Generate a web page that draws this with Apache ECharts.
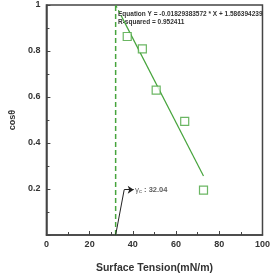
<!DOCTYPE html>
<html>
<head>
<meta charset="utf-8">
<script src="https://cdn.jsdelivr.net/npm/echarts@6/dist/echarts.min.js"></script>
<style>
  html, body { margin: 0; padding: 0; background: #fff; }
  #chart { width: 273px; height: 279px; }
</style>
</head>
<body>
<div id="chart"></div>
<script>
  // measured points
  let tension = [37.4, 44.4, 50.8, 64.0, 72.7]
  let cosTheta = [0.863, 0.809, 0.63, 0.494, 0.195]
  // linear fit
  let slope = -0.01829383572
  let intercept = 1.586394239
  let gammaC = 32.04
  let fitDashX = [32.04, 35.0]
  let fitSolidX = [35.0, 72.7]
  // annotation leader: slanted part, then the arrow
  let leaderPath = [[32.04, 0], [36.0, 0.197]]
  let arrowPath = [[36.0, 0.197], [40.4, 0.197]]
  let xTicks = [0, 20, 40, 60, 80, 100]
  let yTicks = [0.2, 0.4, 0.6, 0.8, 1]

  let green = '#46a43c'
  let fit = x => [x, slope * x + intercept]

  let chart = echarts.init(document.getElementById('chart'))
  let boldFont = { fontFamily: 'Liberation Sans, Arial, sans-serif', fontWeight: 'bold', color: '#333' }

  let option = {
    animation: false,
    grid: { left: 31, right: 4, top: 5, bottom: 35, show: true, borderColor: '#444', borderWidth: 1.5 },
    xAxis: {
      type: 'value', min: 0, max: 100, interval: 20,
      name: 'Surface Tension(mN/m)', nameLocation: 'middle', nameGap: 28,
      nameTextStyle: Object.assign({ fontSize: 10.5 }, boldFont),
      axisLine: { lineStyle: { color: '#444', width: 1.5 } },
      axisTick: { inside: true, length: 4, lineStyle: { color: '#444' } },
      minorTick: { show: true, splitNumber: 2, length: 3, lineStyle: { color: '#444' } },
      axisLabel: Object.assign({ fontSize: 9, margin: 5, showMaxLabel: true, formatter: v => xTicks.includes(v) ? v : '' }, boldFont),
      splitLine: { show: false }
    },
    yAxis: {
      type: 'value', min: 0, max: 1, interval: 0.2,
      name: 'cosθ', nameLocation: 'middle', nameGap: 15,
      nameTextStyle: Object.assign({ fontSize: 9 }, boldFont),
      axisLine: { show: true, lineStyle: { color: '#444', width: 1.5 } },
      axisTick: { inside: true, length: 4, lineStyle: { color: '#444' } },
      minorTick: { show: true, splitNumber: 2, length: 3, lineStyle: { color: '#444' } },
      axisLabel: Object.assign({ fontSize: 9, margin: 6, formatter: v => yTicks.some(t => Math.abs(t - v) < 1e-6) ? String(+v.toFixed(1)) : '' }, boldFont),
      splitLine: { show: false }
    },
    series: [
      {
        type: 'line', data: [[gammaC, 0], [gammaC, 1]], symbol: 'none',
        itemStyle: { color: green },
        lineStyle: { color: green, width: 1.5, type: [5, 3] }, z: 2
      },
      {
        type: 'line', data: fitDashX.map(fit), symbol: 'none',
        itemStyle: { color: green },
        lineStyle: { color: green, width: 1.2, type: [3, 3] }
      },
      {
        type: 'line', data: fitSolidX.map(fit), symbol: 'none',
        itemStyle: { color: green },
        lineStyle: { color: green, width: 1.2 }
      },
      {
        type: 'scatter', data: tension.map((x, i) => [x, cosTheta[i]]),
        symbol: 'rect', symbolSize: 8,
        itemStyle: { color: '#fff', borderColor: green, borderWidth: 1.2 }, z: 5
      },
      {
        type: 'lines', coordinateSystem: 'cartesian2d',
        symbol: ['none', 'none'],
        lineStyle: { color: '#222', width: 1, opacity: 1 },
        data: [{ coords: leaderPath }], z: 6
      },
      {
        type: 'lines', coordinateSystem: 'cartesian2d',
        symbol: ['none', 'arrow'], symbolSize: 6,
        itemStyle: { color: '#222' },
        lineStyle: { color: '#222', width: 1, opacity: 1 },
        data: [{ coords: arrowPath }], z: 6
      },
      {
        type: 'scatter', symbolSize: 0, data: [[41, 0.197]],
        label: {
          show: true, position: 'right', distance: 0,
          formatter: '{g|γ}{c|c}{t| : 32.04}',
          rich: {
            g: { fontSize: 8, color: '#333' },
            c: { fontSize: 6, color: '#333', verticalAlign: 'bottom', padding: [3, 0, 0, 0] },
            t: Object.assign({ fontSize: 7.5 }, boldFont)
          }
        }
      }
    ],
    graphic: [
      {
        type: 'text', left: 118, top: 10,
        style: { text: 'Equation Y = -0.01829383572 * X + 1.586394239\nR-squared = 0.952411', fill: '#333', font: 'bold 6.5px Liberation Sans, Arial, sans-serif', lineHeight: 8 }
      }
    ]
  }
  chart.setOption(option)
</script>
</body>
</html>
